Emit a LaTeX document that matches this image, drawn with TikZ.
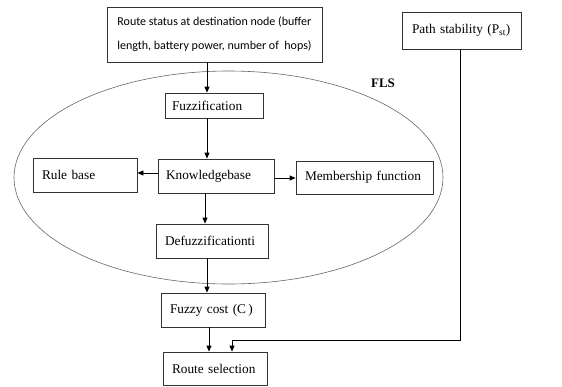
\documentclass[tikz,border=0pt]{standalone}
\usepackage{fontspec}
\setmainfont{Liberation Serif}
\newfontfamily\boxsans{Carlito}
\usetikzlibrary{arrows.meta}
\begin{document}
\begin{tikzpicture}[x=1pt,y=-1pt,
  box/.style={draw=black!80, line width=0.8pt, rectangle, inner xsep=0pt, inner ysep=0pt, align=left, font=\fontsize{13.3}{15}\selectfont},
  arr/.style={draw=black, line width=0.8pt, -{Triangle[length=6pt,width=5pt]}},
  line/.style={draw=black, line width=0.8pt}]
\useasboundingbox (0,0) rectangle (562,386);
\draw[black!60, line width=0.6pt] (228.5,177.5) ellipse [x radius=214.5, y radius=106.5];
\node[box, minimum width=215, minimum height=55, font=\boxsans\fontsize{12}{24}\selectfont] (top) at (214.5,34.5) {Route status at destination node (buffer\\length, battery power, number of~ hops)};
\node[box, minimum width=119, minimum height=37, text width=99] (path) at (461.5,30.5) {Path stability (P\textsubscript{st})};
\node[font=\bfseries\fontsize{13}{15}\selectfont] (fls) at (383,83) {FLS};
\node[box, minimum width=98, minimum height=25, text width=84] (fuzz) at (214,105.5) {Fuzzification};
\node[box, minimum width=116, minimum height=34, text width=100] (know) at (216,176) {Knowledgebase};
\node[box, minimum width=104, minimum height=34, text width=86] (rule) at (85,175) {Rule base};
\node[box, minimum width=137, minimum height=33, text width=119] (memb) at (364.5,177.5) {Membership function};
\node[box, minimum width=112, minimum height=34, text width=94] (defuzz) at (212,241) {Defuzzificationti};
\node[box, minimum width=104, minimum height=34, text width=86] (cost) at (213,310) {Fuzzy cost (C\,)};
\node[box, minimum width=104, minimum height=33, text width=86] (route) at (215,368.5) {Route selection};
\coordinate (bend) at (232,340);
\draw[arr] ([xshift=-7.5pt]top.south) -- ([xshift=-7pt]fuzz.north);
\draw[arr] ([xshift=-7pt]fuzz.south) -- ([xshift=-9pt]know.north);
\draw[arr] ([yshift=3pt]know.west) -- ([yshift=2pt]rule.east);
\draw[arr] ([yshift=-2pt]know.east) -- ([yshift=-0.5pt]memb.west);
\draw[arr] ([xshift=-11pt]know.south) -- ([xshift=-7pt]defuzz.north);
\draw[arr] ([xshift=-5pt]defuzz.south) -- ([xshift=-6pt]cost.north);
\draw[arr] ([xshift=-4pt]cost.south) -- ([xshift=-6pt]route.north);
\draw[arr] ([xshift=-1.5pt]path.south) |- (bend) -- ([xshift=17pt]route.north);
\end{tikzpicture}
\end{document}
